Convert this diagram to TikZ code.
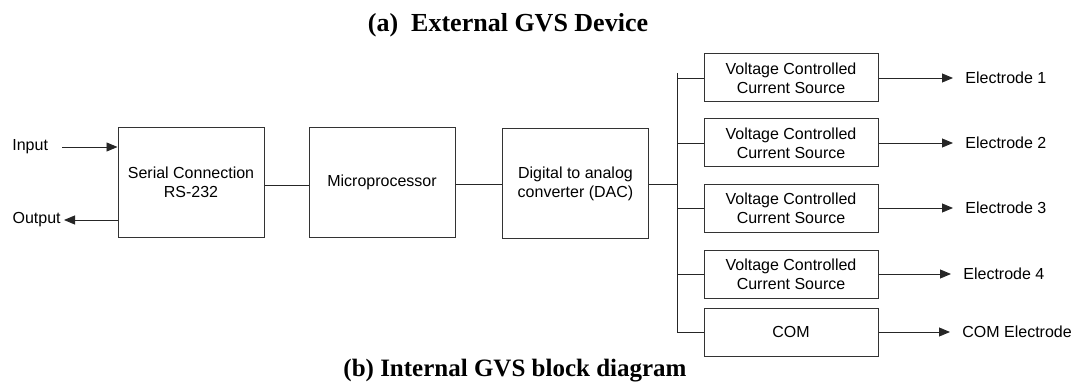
\documentclass[tikz,border=0pt]{standalone}
\usepackage{fontspec}
\setmainfont{Liberation Sans}
\newfontfamily\titlefont{Liberation Serif}
\usetikzlibrary{arrows.meta}
\begin{document}
\begin{tikzpicture}[x=1pt,y=-1pt,
  line width=0.8pt,
  blk/.style={draw=black!80, line width=1pt, align=center, font=\fontsize{16}{19}\selectfont, inner sep=0pt},
  bigblk/.style={blk, minimum width=146pt, minimum height=110pt},
  srcblk/.style={blk, minimum width=174pt, minimum height=48pt},
  lbl/.style={font=\fontsize{16}{19}\selectfont, inner sep=0pt},
  ttl/.style={font=\titlefont\bfseries\fontsize{25}{30}\selectfont, inner sep=0pt, anchor=base},
  wire/.style={draw=black!85, line width=0.9pt},
  arr/.style={wire, -{Triangle[length=11pt,width=9pt]}}
]
\useasboundingbox (0,0) rectangle (1083,390);

\node[ttl, font=\titlefont\bfseries\fontsize{26}{30}\selectfont] (t1) at (508,32) {(a)\ \ External GVS Device};
\node[ttl] (t2) at (515,376) {(b) Internal GVS block diagram};

\node[bigblk] (ser) at (191,182.5) {Serial Connection\\RS-232};
\node[bigblk] (mic) at (382,182.5) {Microprocessor};
\node[bigblk] (dac) at (575.5,183.5) {Digital to analog\\converter (DAC)};

\node[lbl, anchor=west] (in) at (12,147) {Input};
\node[lbl, anchor=east] (out) at (61,220) {Output};
\coordinate (inS) at (62,147);
\coordinate (outE) at (64,220);
\draw[arr] (inS) -- (inS -| ser.west);
\draw[arr] (outE -| ser.west) -- (outE);

\draw[wire] (ser.east |- 0,185) -- (mic.west |- 0,185);
\draw[wire] (mic.east |- 0,184) -- (dac.west |- 0,184);

\node[srcblk] (v1) at (791,78) {Voltage Controlled\\Current Source};
\node[srcblk] (v2) at (791,143) {Voltage Controlled\\Current Source};
\node[srcblk] (v3) at (791,208) {Voltage Controlled\\Current Source};
\node[srcblk] (v4) at (791,274) {Voltage Controlled\\Current Source};
\node[srcblk] (com) at (791,332) {COM};

\coordinate (bt) at (677,73);
\draw[wire] (bt) |- (com.west);
\draw[wire] (dac.east |- 0,184) -- (bt |- 0,184);
\foreach \n in {v1,v2,v3,v4} {
  \draw[wire] (\n.west) -- (\n.west -| bt);
}

\node[lbl, anchor=west] (e1) at (965,78) {Electrode 1};
\node[lbl, anchor=west] (e2) at (965,143) {Electrode 2};
\node[lbl, anchor=west] (e3) at (965,208) {Electrode 3};
\node[lbl, anchor=west] (e4) at (963,274) {Electrode 4};
\node[lbl, anchor=west] (ec) at (962,332) {COM Electrode};
\foreach \a/\b in {v1/e1,v2/e2,v3/e3,v4/e4,com/ec} {
  \draw[arr] (\a.east) -- ([xshift=-12pt]\b.west);
}
\end{tikzpicture}
\end{document}
